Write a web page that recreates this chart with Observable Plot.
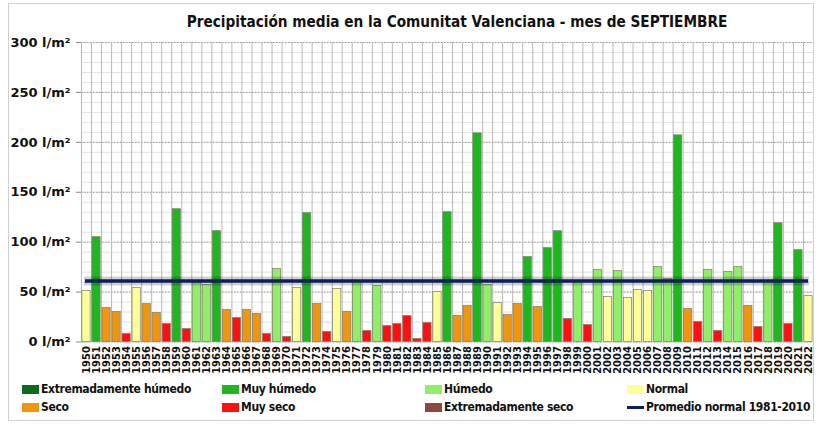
<!DOCTYPE html>
<html>
<head>
<meta charset="utf-8">
<script src="https://cdn.jsdelivr.net/npm/d3@7"></script>
<script src="https://cdn.jsdelivr.net/npm/@observablehq/plot@0.6"></script>
<style>
  html, body { margin: 0; padding: 0; background: #fff; }
  #wrap { position: relative; width: 830px; height: 426px; overflow: hidden; }
  #frame { position: absolute; left: 8px; top: 3px; width: 806px; height: 418px; border: 1px solid #cfcfcf; box-sizing: border-box; pointer-events: none; }
  #title { height: 34px; box-sizing: border-box; padding-top: 13px; padding-left: 84px; text-align: center;
           font-family: "DejaVu Sans Condensed", "DejaVu Sans", sans-serif; font-weight: bold; font-size: 15.2px; color: #111; line-height: 18px; }
  #legend { display: grid; grid-template-columns: 200px 203px 202px 200px; grid-auto-rows: 18px; padding-left: 22px;
            font-family: "DejaVu Sans Condensed", sans-serif; font-weight: bold; font-size: 12px; letter-spacing: -0.35px; color: #111; }
  .item { display: flex; align-items: center; white-space: nowrap; }
  .sw { display: inline-block; width: 17px; height: 9px; margin-right: 2px; }
  .ln { display: inline-block; width: 17px; height: 3px; margin-right: 2px; }
</style>
</head>
<body>
<div id="wrap">
  <div id="frame"></div>
  <div id="title"></div>
  <div id="chart"></div>
  <div id="legend"></div>
</div>
<script>
const titleText = "Precipitación media en la Comunitat Valenciana - mes de SEPTIEMBRE";
const years = d3.range(1950, 2023);
const values = [
  51,105,34,30,8,54,38,29,18,133,
  13,59,57,111,32,24,32,28,8,73,
  5,54,129,38,10,53,30,60,11,56,
  16,18,26,3,19,50,130,26,36,209,
  57,39,27,38,85,35,94,111,23,61,
  17,72,45,71,44,52,51,75,63,207,
  33,20,72,11,70,75,36,15,61,119,
  18,92,46
];
const cats = [
  "N","MH","S","S","MS","N","S","S","MS","MH",
  "MS","H","H","MH","S","MS","S","S","MS","H",
  "MS","N","MH","S","MS","N","S","H","MS","H",
  "MS","MS","MS","MS","MS","N","MH","S","S","MH",
  "H","N","S","S","MH","S","MH","MH","MS","H",
  "MS","H","N","H","N","N","N","H","H","MH",
  "S","MS","H","MS","H","H","S","MS","H","MH",
  "MS","MH","N"
];
const average = 61;
const avgLabel = "Promedio normal 1981-2010";
const yTicks = [0, 50, 100, 150, 200, 250, 300];
const minorTicks = d3.range(0, 301, 10);

const catCodes = ["EH","MH","H","N","S","MS","ES"];
const catNames = ["Extremadamente húmedo","Muy húmedo","Húmedo","Normal","Seco","Muy seco","Extremadamente seco"];
const catColors = ["#0b6b1b","#1fb71f","#90ee68","#ffff99","#f0950e","#ff1010","#8a4a3e"];
const avgColor = "#0d1f5c";

const colorOf = Object.fromEntries(catCodes.map((c, i) => [c, catColors[i]]));
const data = years.map((y, i) => ({year: y, value: values[i], cat: cats[i]}));
const boundaries = years.map(y => y - 0.5).concat([years[years.length - 1] + 0.5]);

document.getElementById("title").textContent = titleText;

const chart = Plot.plot({
  width: 830,
  height: 346,
  marginTop: 8,
  marginBottom: 38.5,
  marginLeft: 81,
  marginRight: 17,
  x: {domain: [years[0] - 0.5, years[years.length - 1] + 0.5], label: null},
  y: {domain: [0, 300], label: null},
  style: {background: "transparent", fontFamily: "DejaVu Sans, sans-serif", color: "#111", overflow: "visible"},
  marks: [
    Plot.ruleY(minorTicks, {stroke: "#e2e2e2", strokeWidth: 1}),
    Plot.ruleY(yTicks, {stroke: "#9a9a9a", strokeWidth: 1, strokeDasharray: "1.5,1.5"}),
    Plot.ruleX(boundaries, {stroke: "#b8b8b8", strokeWidth: 1}),
    Plot.rectY(data, {
      x1: d => d.year - 0.5, x2: d => d.year + 0.5, y: "value",
      fill: d => colorOf[d.cat], stroke: "#7d7d6a", strokeWidth: 0.7,
      insetLeft: 0.9, insetRight: 0.9
    }),
    Plot.ruleY([average], {stroke: "#000", strokeOpacity: 0.18, strokeWidth: 9, insetLeft: 3, insetRight: 4}),
    Plot.ruleY([average], {stroke: avgColor, strokeWidth: 3.5, insetLeft: 4, insetRight: 5}),
    Plot.axisY({ticks: yTicks, tickFormat: d => `${d} l/m²`, tickSize: 5, tickPadding: 6, label: null,
                fontSize: 13, fontWeight: "bold", stroke: "#888", fill: "#111"}),
    Plot.axisX({ticks: years, tickFormat: d => String(d), tickRotate: -90, tickSize: 0, tickPadding: 4, label: null,
                fontSize: 10, fontWeight: "bold", fill: "#111"})
  ]
});
document.getElementById("chart").appendChild(chart);

const legend = document.getElementById("legend");
const order = ["EH","MH","H","N","S","MS","ES","AVG"];
for (const code of order) {
  const it = document.createElement("div");
  it.className = "item";
  const sw = document.createElement("span");
  if (code === "AVG") {
    sw.className = "ln";
    sw.style.background = avgColor;
    it.appendChild(sw);
    it.appendChild(document.createTextNode(avgLabel));
  } else {
    const i = catCodes.indexOf(code);
    sw.className = "sw";
    sw.style.background = catColors[i];
    it.appendChild(sw);
    it.appendChild(document.createTextNode(catNames[i]));
  }
  legend.appendChild(it);
}
</script>
</body>
</html>
